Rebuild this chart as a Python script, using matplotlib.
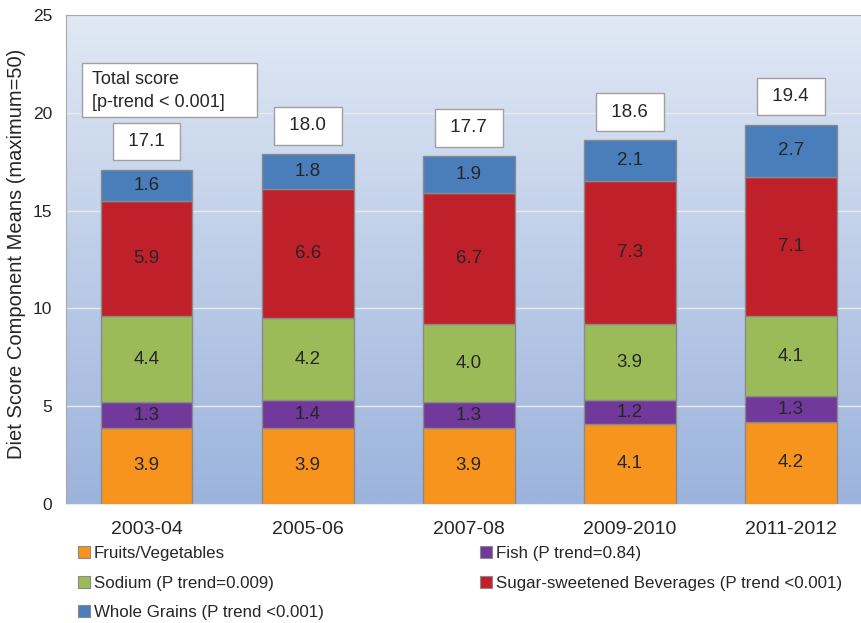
import numpy as np
import matplotlib
matplotlib.use("Agg")
import matplotlib.pyplot as plt
from matplotlib.patches import Rectangle, Patch

plt.rcParams['font.family'] = ['Liberation Sans', 'DejaVu Sans']

periods = ["2003-04", "2005-06", "2007-08", "2009-2010", "2011-2012"]
fruits_veg = [3.9, 3.9, 3.9, 4.1, 4.2]
fish = [1.3, 1.4, 1.3, 1.2, 1.3]
sodium = [4.4, 4.2, 4.0, 3.9, 4.1]
ssb = [5.9, 6.6, 6.7, 7.3, 7.1]
whole_grains = [1.6, 1.8, 1.9, 2.1, 2.7]
totals = [17.1, 18.0, 17.7, 18.6, 19.4]

series_names = ["Fruits/Vegetables", "Fish (P trend=0.84)", "Sodium (P trend=0.009)",
                "Sugar-sweetened Beverages (P trend <0.001)", "Whole Grains (P trend <0.001)"]
series = [fruits_veg, fish, sodium, ssb, whole_grains]
colors = ["#f7941d", "#70399a", "#9bbb59", "#c0202a", "#4a7ebb"]

W, H = 861, 623
fig = plt.figure(figsize=(W / 100, H / 100), dpi=100)
ax = fig.add_axes([66 / W, 1 - 504 / H, 1 - 66 / W, (504 - 15) / H])

x = np.arange(len(periods))
ax.set_xlim(-0.5, 4.435)
ax.set_ylim(0, 25)

# gradient background
grad = np.linspace(0, 1, 256).reshape(-1, 1)
top = np.array([0xe0, 0xe8, 0xf4]) / 255
bot = np.array([0x9c, 0xb3, 0xdc]) / 255
img = top * (1 - grad[..., None]) + bot * grad[..., None]
img = img.reshape(256, 1, 3)
ax.imshow(img, extent=[-0.5, 4.435, 0, 25], aspect='auto', zorder=0, origin='upper')

for yv in [5, 10, 15, 20]:
    ax.axhline(yv, color="#e6e9ef", lw=1, zorder=1)

bottom = np.zeros(len(periods))
for vals, col in zip(series, colors):
    vals = np.array(vals)
    ax.bar(x, vals, bottom=bottom, width=0.57, color=col, edgecolor="#8a8a8a",
           linewidth=1, zorder=2)
    for xi, b, v in zip(x, bottom, vals):
        ax.text(xi, b + v / 2, f"{v:.1f}", ha='center', va='center', fontsize=13.5,
                color="#262626", zorder=3)
    bottom = bottom + vals

for xi, b, t in zip(x, bottom, totals):
    ax.annotate(f" {t:.1f} ", (xi, b), xytext=(0, 14), textcoords='offset points',
                ha='center', va='bottom', fontsize=13.5, color="#262626",
                bbox=dict(boxstyle='square,pad=0.55', fc='white', ec='#a0a0a0', lw=1),
                zorder=4)

ax.set_xticks(x)
ax.set_xticklabels(periods, fontsize=14, color="#262626")
ax.set_yticks([0, 5, 10, 15, 20, 25])
ax.set_yticklabels(["0", "5", "10", "15", "20", "25"], fontsize=12.5, color="#262626")
ax.tick_params(axis='both', length=0)
ax.tick_params(axis='x', pad=12)
ax.tick_params(axis='y', pad=10)
ax.set_ylabel("Diet Score Component Means (maximum=50)", fontsize=14.5, color="#262626",
              labelpad=5)
ax.yaxis.label.set_y(0.512)

for s in ['right']:
    ax.spines[s].set_visible(False)
ax.spines['left'].set_color('#a8a8a8')
ax.spines['top'].set_color('#a8a8a8')
ax.spines['bottom'].set_color('#e8e8e8')

# total score box
fig.patches.append(Rectangle((82 / W, 1 - 117 / H), 175 / W, 54 / H, transform=fig.transFigure,
                             fc='white', ec='#a0a0a0', lw=1, zorder=5))
fig.text(92 / W, 1 - 91 / H, "Total score\n[p-trend < 0.001]", fontsize=13, color="#262626",
         ha='left', va='center', linespacing=1.4, zorder=6)

handles = [Patch(fc=c, ec="#8a8a8a", lw=0.8) for c in colors]
order = [0, 2, 4, 1, 3]
leg = fig.legend([handles[i] for i in order], [series_names[i] for i in order],
                 loc='upper left', bbox_to_anchor=(78 / W, 1 - 546 / H), ncol=2,
                 frameon=False, fontsize=12.2, handlelength=0.7, handleheight=0.7,
                 handletextpad=0.25, labelspacing=0.86, columnspacing=9.2, borderpad=0,
                 borderaxespad=0)
for t in leg.get_texts():
    t.set_color("#262626")

fig.savefig("out.png", dpi=100)
